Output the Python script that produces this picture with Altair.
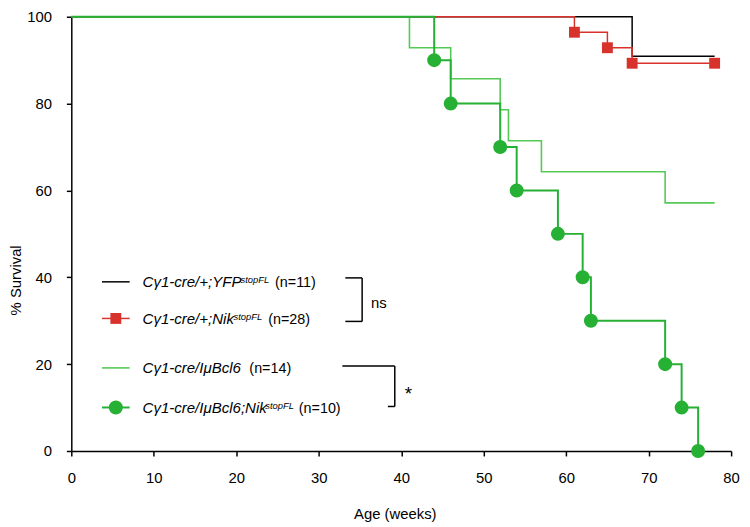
import altair as alt
import pandas as pd

# ---------------- data ----------------
black_t = [0, 68, 78]
black_s = [100, 90.91, 90.91]

red_t = [0, 61, 65, 68, 78]
red_s = [100, 96.43, 92.86, 89.29, 89.29]
red_mark_t = [61, 65, 68, 78]
red_mark_s = [96.43, 92.86, 89.29, 89.29]

thin_t = [0, 41, 46, 52, 53, 57, 72, 78]
thin_s = [100, 92.86, 85.71, 78.57, 71.43, 64.29, 57.14, 57.14]

thick_t = [0, 44, 46, 52, 54, 59, 62, 63, 72, 74, 76]
thick_s = [100, 90, 80, 70, 60, 50, 40, 30, 20, 10, 0]
thick_mark_t = [44, 46, 52, 54, 59, 62, 63, 72, 74, 76]
thick_mark_s = [90, 80, 70, 60, 50, 40, 30, 20, 10, 0]

x_ticks = [0, 10, 20, 30, 40, 50, 60, 70, 80]
y_ticks = [0, 20, 40, 60, 80, 100]

legend_main = ["C\u03b31-cre/+;YFP", "C\u03b31-cre/+;Nik",
               "C\u03b31-cre/I\u03bcBcl6", "C\u03b31-cre/I\u03bcBcl6;Nik"]
legend_sup = ["stopFL", "stopFL", "", "stopFL"]
legend_n = ["(n=11)", "(n=28)", "(n=14)", "(n=10)"]

# ---------------- styles ----------------
FONT = "Liberation Sans"
BLACK = "#000000"
RED = "#d8322d"
THIN_G = "#55c955"
THICK_G = "#26b034"

# plot-area origin on the page (used to convert the page layout below)
OX, OY = 72, 14

xs = alt.Scale(domain=[0, 80], nice=False, zero=True)
ys = alt.Scale(domain=[0, 100], nice=False, zero=True)

x_axis = alt.Axis(values=x_ticks, title="Age (weeks)", tickSize=5, labelPadding=15,
                  labelFlush=False, titleX=399 - OX, titleY=63, titleAlign="center",
                  titleBaseline="middle")
y_axis = alt.Axis(values=y_ticks, title="% Survival", tickSize=5, labelPadding=15,
                  labelFlush=False, titleX=16 - OX, titleY=280 - OY, titleAngle=-90,
                  titleAlign="center", titleBaseline="middle")


def df(t, s):
    return pd.DataFrame({"t": t, "s": s})


def step_line(t, s, color, width, with_axes=False):
    if with_axes:
        enc = dict(x=alt.X("t:Q", scale=xs, axis=x_axis),
                   y=alt.Y("s:Q", scale=ys, axis=y_axis))
    else:
        enc = dict(x=alt.X("t:Q", scale=xs), y=alt.Y("s:Q", scale=ys))
    return alt.Chart(df(t, s)).mark_line(
        interpolate="step-after", color=color, strokeWidth=width
    ).encode(**enc)


black_line = step_line(black_t, black_s, BLACK, 1.5, with_axes=True)
red_line = step_line(red_t, red_s, RED, 1.5)
thin_line = step_line(thin_t, thin_s, THIN_G, 1.6)
thick_line = step_line(thick_t, thick_s, THICK_G, 2)

red_pts = alt.Chart(df(red_mark_t, red_mark_s)).mark_square(
    color=RED, size=121, opacity=1).encode(
    x=alt.X("t:Q", scale=xs), y=alt.Y("s:Q", scale=ys))
thick_pts = alt.Chart(df(thick_mark_t, thick_mark_s)).mark_circle(
    color=THICK_G, size=200, opacity=1).encode(
    x=alt.X("t:Q", scale=xs), y=alt.Y("s:Q", scale=ys))

# ---------------- legend / annotations (page-pixel layout) ----------------
one = pd.DataFrame({"a": [0]})


def hrule(x1, x2, y, color=BLACK, w=1.5):
    return alt.Chart(one).mark_rule(color=color, strokeWidth=w).encode(
        x=alt.value(x1 - OX), x2=alt.value(x2 - OX), y=alt.value(y - OY))


def vrule(x, y1, y2, color=BLACK, w=1.5):
    return alt.Chart(one).mark_rule(color=color, strokeWidth=w).encode(
        x=alt.value(x - OX), y=alt.value(y1 - OY), y2=alt.value(y2 - OY))


def txt(s, x, y, size=14, style="normal"):
    return alt.Chart(one).mark_text(
        text=s, align="left", baseline="alphabetic", fontSize=size,
        fontStyle=style, font=FONT, color=BLACK).encode(
        x=alt.value(x - OX), y=alt.value(y - OY))


row_y = [282, 319, 369, 409]
sample_colors = [BLACK, RED, THIN_G, THICK_G]
sample_w = [1.5, 1.5, 1.6, 2]
sup_x = [243, 236, 0, 268]
n_x = [278, 271, 252, 302]

legend_layers = []
for i in range(4):
    y = row_y[i]
    legend_layers.append(hrule(103, 131, y, sample_colors[i], sample_w[i]))
    legend_layers.append(txt(legend_main[i], 144, y + 5.5, 15.2, "italic"))
    if legend_sup[i]:
        legend_layers.append(txt(legend_sup[i], sup_x[i], y + 1.5, 9.5, "italic"))
    legend_layers.append(txt(legend_n[i], n_x[i], y + 5.5, 14.5))

legend_layers.append(alt.Chart(one).mark_square(color=RED, size=121, opacity=1).encode(
    x=alt.value(117 - OX), y=alt.value(row_y[1] - OY)))
legend_layers.append(alt.Chart(one).mark_circle(color=THICK_G, size=200, opacity=1).encode(
    x=alt.value(117 - OX), y=alt.value(row_y[3] - OY)))

# brackets with significance labels
legend_layers += [
    hrule(349, 366, 278), vrule(366, 278, 322), hrule(349, 366, 322),
    txt("ns", 375, 308, 15),
    hrule(346, 399, 367), vrule(399, 367, 408), hrule(392, 399, 408),
    txt("*", 409, 401, 19),
]

chart = alt.layer(
    black_line, red_line, thin_line, thick_line, red_pts, thick_pts, *legend_layers
).properties(
    width=667, height=453 - OY,
    autosize=alt.AutoSizeParams(type="none"),
    padding={"left": OX - 8, "top": OY - 8, "right": 11, "bottom": 74},
).configure_axis(
    grid=False, domainColor=BLACK, tickColor=BLACK, labelColor=BLACK,
    titleColor=BLACK, labelFont=FONT, titleFont=FONT, labelFontSize=15,
    titleFontSize=15, titleFontWeight="normal", domainWidth=1.5, tickWidth=1.5,
).configure_view(stroke=None)

chart.save("out.html", embed_options={"renderer": "svg", "actions": False})
